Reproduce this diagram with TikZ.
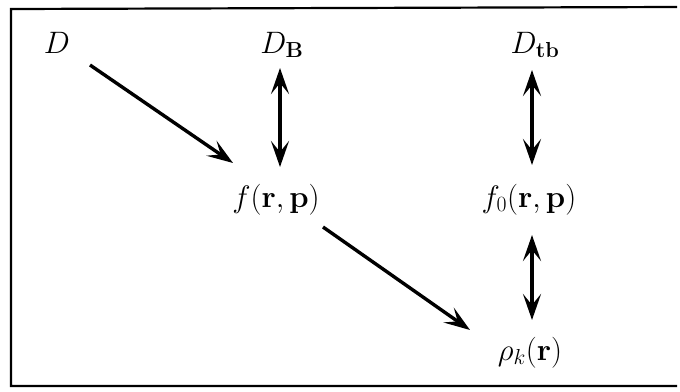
\RequirePackage{fix-cm}
\documentclass[tikz,border=0pt]{standalone}
\usetikzlibrary{arrows.meta}
\begin{document}
\begin{tikzpicture}[x=1pt,y=-1pt,
  lbl/.style={inner sep=0pt,anchor=base,font=\fontsize{31}{37}\selectfont},
  arr/.style={line width=3.4pt,-{Stealth[length=26pt,width=18pt,inset=11pt]}},
  darr/.style={line width=3.4pt,{Stealth[length=26pt,width=18pt,inset=11pt]}-{Stealth[length=26pt,width=18pt,inset=11pt]}},
  frame/.style={line width=2.2pt}]
\useasboundingbox (0,0) rectangle (680,391);
\draw[frame] (677,7) -- (11,9) -- (11,386) -- (677,386);
\node[lbl] (D)   at (57,53)  {$D$};
\node[lbl] (DB)  at (282,53) {$D_{\mathbf{B}}$};
\node[lbl] (Dtb) at (535,53) {$D_{\mathbf{tb}}$};
\node[lbl] (f)   at (276,207) {$f(\mathbf{r},\mathbf{p})$};
\node[lbl] (f0)  at (529,207) {$f_0(\mathbf{r},\mathbf{p})$};
\node[lbl] (rho) at (530,360) {$\rho_k(\mathbf{r})$};
\coordinate (a1s) at (90,65);   \coordinate (a1e) at (233,163);
\coordinate (a2s) at (280,68);  \coordinate (a2e) at (280,167);
\coordinate (a3s) at (532,70);  \coordinate (a3e) at (532,165);
\coordinate (a4s) at (323,227); \coordinate (a4e) at (470,330);
\coordinate (a5s) at (532,235); \coordinate (a5e) at (532,320);
\draw[arr]  (a1s) -- (a1e);
\draw[darr] (a2s) -- (a2e);
\draw[darr] (a3s) -- (a3e);
\draw[arr]  (a4s) -- (a4e);
\draw[darr] (a5s) -- (a5e);
\end{tikzpicture}
\end{document}
